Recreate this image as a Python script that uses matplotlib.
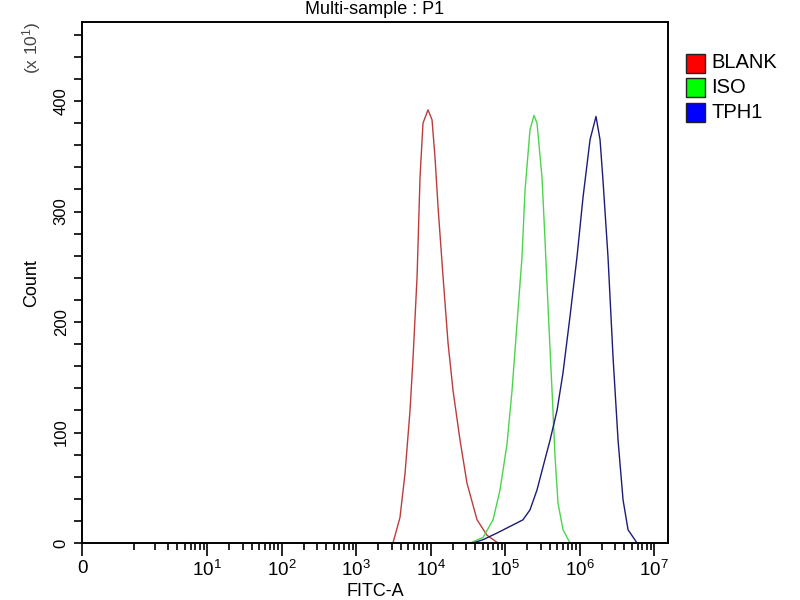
import matplotlib
matplotlib.use("Agg")
import matplotlib.pyplot as plt
from matplotlib.patches import Rectangle
import numpy as np

plt.rcParams.update({
    "font.family": ["Liberation Sans", "DejaVu Sans"],
    "mathtext.fontset": "custom",
    "mathtext.rm": "Liberation Sans",
    "mathtext.it": "Liberation Sans",
    "mathtext.bf": "Liberation Sans",
})

# FITC-A intensity and counts (x10)
blank_x = [3135, 3890, 4550, 5310, 5830, 6600, 7230, 7930, 9250, 10480, 11490,
           12620, 14730, 17190, 20060, 24900, 30900, 42100, 57300, 80600]
blank_y = [0, 23, 63, 120, 168, 241, 331, 380, 392, 383, 349,
           304, 241, 181, 138, 93, 54, 21, 7, 0]

iso_x = [33900, 50700, 69100, 85700, 106500, 124200, 145000, 169100, 185500,
         216400, 245000, 268700, 313500, 344300, 377700, 427600, 469000,
         514400, 600200, 745000]
iso_y = [0, 5, 21, 48, 90, 138, 199, 259, 319,
         374, 387, 380, 331, 274, 214, 138, 78,
         36, 12, 0]

tph1_x = [37200, 50700, 78000, 116800, 174300, 216400, 268700, 323800, 401900,
          499200, 600200, 745000, 925300, 1115000, 1384000, 1664000, 1885000,
          2066000, 2411000, 2818000, 3290000, 3839000, 4479000, 5918000]
tph1_y = [0, 3, 9, 15, 21, 30, 48, 69, 93,
          120, 154, 205, 259, 313, 365, 386, 365,
          328, 259, 168, 93, 39, 12, 0]

names = ["BLANK", "ISO", "TPH1"]
line_colors = ["#bc3c3c", "#4cd44c", "#1c1c78"]
box_colors = ["#ff0000", "#00ff00", "#0000ff"]

W = 0.42  # biexponential-like width parameter


def fwd(x):
    return np.arcsinh(np.asarray(x, dtype=float) / W) / np.log(10)


def inv(y):
    return W * np.sinh(np.asarray(y, dtype=float) * np.log(10))


fig = plt.figure(figsize=(8, 6), dpi=100)
ax = fig.add_axes([82 / 800, 57 / 600, 586 / 800, 521 / 600])

for xs, ys, c in zip([blank_x, iso_x, tph1_x], [blank_y, iso_y, tph1_y], line_colors):
    ax.plot(xs, ys, color=c, lw=1.0)

ax.set_xscale("function", functions=(fwd, inv))
ax.set_xlim(0, 1.54e7)
ax.set_ylim(0, 471.5)

major = [0] + [10 ** k for k in range(1, 8)]
ax.set_xticks(major)
ax.set_xticklabels(["0"] + [r"$\mathregular{10^{%d}}$" % k for k in range(1, 8)],
                   fontsize=13.5)
minor = [m for m in range(1, 10)] + [m * 10 ** k for k in range(1, 7) for m in range(2, 10)]
ax.set_xticks(minor, minor=True)
ax.tick_params(axis="x", which="major", direction="out", length=9, width=1.2, pad=3)
ax.tick_params(axis="x", which="minor", direction="out", length=5, width=1.2)

ax.set_yticks([0, 100, 200, 300, 400])
ax.set_yticks(np.arange(0, 461, 20), minor=True)
ax.tick_params(axis="y", which="both", direction="out", length=6, width=1.2)
for lbl in ax.get_yticklabels():
    lbl.set_rotation(90)
    lbl.set_va("center")
    lbl.set_fontsize(12)

for sp in ax.spines.values():
    sp.set_linewidth(1.4)

fig.text(375 / 800, 1 - 10 / 600, "Multi-sample : P1", ha="center", va="center", fontsize=13)
fig.text(375 / 800, 1 - 592 / 600, "FITC-A", ha="center", va="center", fontsize=13)
fig.text(32 / 800, 1 - 283 / 600, "Count", ha="center", va="center", rotation=90, fontsize=13)
fig.text(32 / 800, 1 - 48 / 600, r"(x $\mathregular{10^{1}}$)", ha="center", va="center",
         rotation=90, fontsize=12.5, color="#444444")

# legend
for i, (n, bc) in enumerate(zip(names, box_colors)):
    yc = 63 + i * 24.5
    fig.add_artist(Rectangle((686 / 800, 1 - (yc + 9.5) / 600), 19 / 800, 19 / 600,
                             facecolor=bc, edgecolor="#222222", lw=1.0,
                             transform=fig.transFigure))
    fig.text(711 / 800, 1 - yc / 600, n, ha="left", va="center", fontsize=14.5)

fig.savefig("out.png", dpi=100)
